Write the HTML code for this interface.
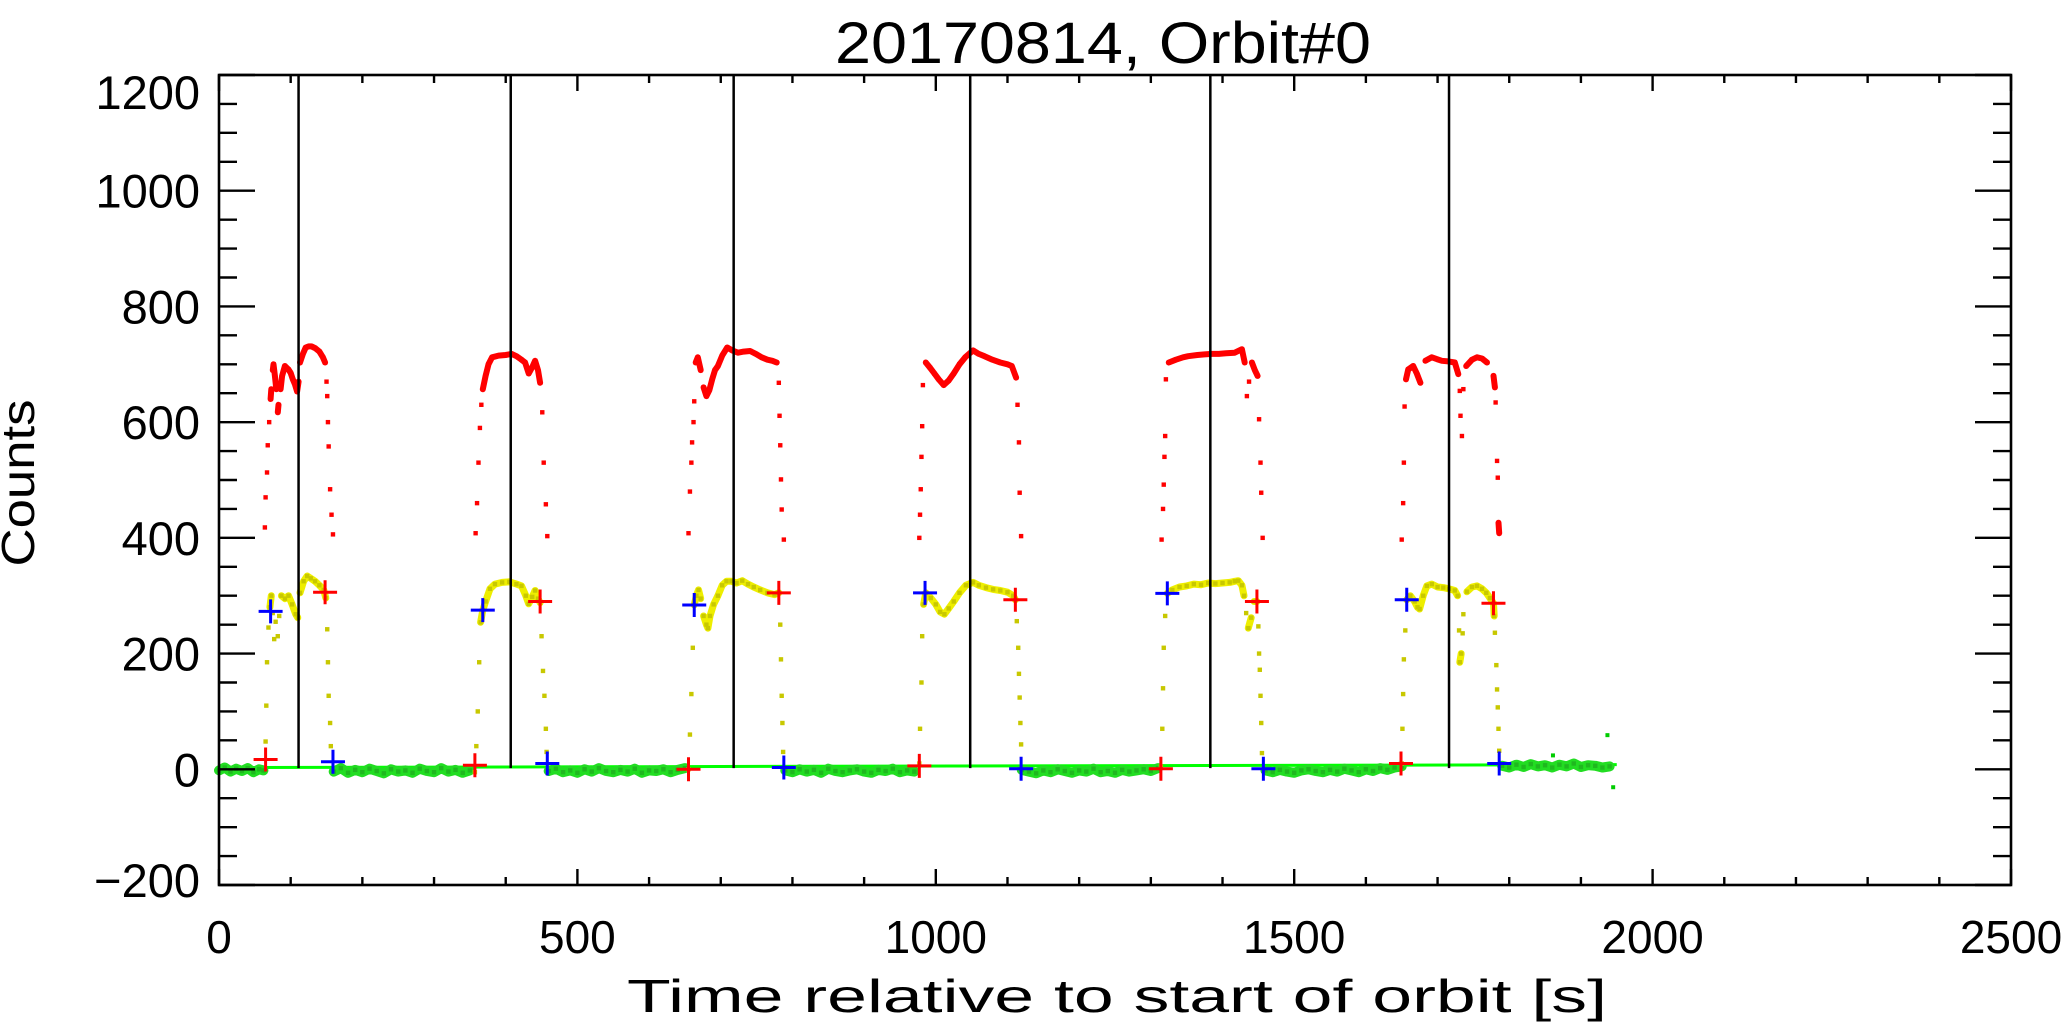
<!DOCTYPE html>
<html><head><meta charset="utf-8"><style>
html,body{margin:0;padding:0;background:#fff;}
svg{display:block;}
text{font-family:"Liberation Sans",sans-serif;fill:#000;}
</style></head><body>
<svg id="chart" width="2067" height="1030" viewBox="0 0 2067 1030" xmlns="http://www.w3.org/2000/svg">
<rect x="0" y="0" width="2067" height="1030" fill="#fff"/>
<text x="1103" y="63" font-size="58" text-anchor="middle" textLength="536" lengthAdjust="spacingAndGlyphs">20170814, Orbit#0</text>
<text x="1117" y="1012" font-size="46" text-anchor="middle" textLength="980" lengthAdjust="spacingAndGlyphs">Time relative to start of orbit [s]</text>
<text x="0" y="0" font-size="46" text-anchor="middle" textLength="167" lengthAdjust="spacingAndGlyphs" transform="translate(34,483) rotate(-90)">Counts</text>
<g id="marks"></g>
<g id="axes"></g>
</svg>
<script>
// ---- data ----
const xTicks = [0, 500, 1000, 1500, 2000, 2500];
const xTickLabels = ["0", "500", "1000", "1500", "2000", "2500"];
const yTicks = [-200, 0, 200, 400, 600, 800, 1000, 1200];
const yTickLabels = ["\u2212200", "0", "200", "400", "600", "800", "1000", "1200"];
const passLineTimes = [111, 407, 718, 1048, 1383, 1716];

const redT = [64,65,67,68,70,72,73,75,76,78,80,82,83,86,88,92,97,100,103,106,109,111,113,117,121,125,129,134,140,145,148,150,151,152,153,155,157,159,
358,360,362,364,366,368,372,376,381,390,400,408,415,422,427,432,437,441,445,448,451,453,456,458,
655,657,659,660,662,663,665,668,672,676,680,684,688,692,696,702,709,716,724,732,741,749,757,765,772,778,781,782,783,784,785,788,
977,978,979,980,981,982,986,992,998,1004,1011,1018,1025,1033,1041,1052,1060,1068,1079,1090,1100,1106,1112,1114,1116,1117,1119,
1315,1317,1318,1319,1320,1321,1325,1335,1345,1352,1365,1375,1385,1395,1405,1417,1427,1431,1434,1437,1441,1445,1449,1451,1453,1454,1456,
1650,1652,1653,1654,1656,1659,1666,1671,1676,1683,1692,1699,1706,1715,1724,1729,1731,1732,1734,1736,1740,1748,1755,1762,1769,1778,1780,1781,1783,1784,1785,1786];
const redV = [418,470,513,560,600,640,657,690,700,680,657,617,630,657,680,697,691,685,674,665,653,670,703,718,729,731,731,728,722,712,703,670,645,600,558,484,440,406,
408,460,530,590,630,657,680,700,712,715,716,718,714,708,703,684,695,706,690,668,617,530,458,403,
408,480,530,565,600,636,703,712,690,660,645,655,674,690,697,715,729,724,720,722,723,718,712,708,706,703,668,611,560,501,449,397,
400,440,484,540,593,664,703,694,684,674,664,672,684,700,712,724,718,714,708,703,700,697,677,630,565,478,403,
397,450,492,540,576,674,703,708,712,714,716,717,718,718,719,720,726,703,645,670,703,690,680,605,530,478,400,
397,460,530,627,674,691,697,684,668,706,712,709,706,705,703,683,654,611,576,657,697,708,712,710,703,680,660,634,533,504,426,408];

const yellowT = [65,66,67,69,71,73,75,77,79,82,84,87,92,97,102,107,110,113,118,123,128,134,140,146,149,151,152,153,155,156,
357,359,361,363,365,368,372,378,385,395,405,415,422,428,432,437,441,445,448,450,452,454,456,457,
655,657,659,661,663,666,669,672,676,680,682,685,690,696,702,708,715,722,730,738,746,755,765,775,781,783,784,785,786,787,
977,978,980,981,983,986,993,1000,1006,1012,1018,1025,1033,1042,1052,1060,1070,1080,1090,1100,1108,1111,1113,1115,1116,1117,1118,1119,
1314,1316,1317,1318,1320,1323,1330,1340,1350,1360,1370,1380,1390,1400,1410,1417,1422,1427,1430,1433,1436,1440,1444,1448,1450,1451,1452,1453,1454,1455,
1650,1651,1652,1653,1655,1657,1662,1668,1672,1675,1680,1685,1692,1700,1708,1716,1724,1728,1730,1731,1733,1735,1736,1741,1748,1755,1762,1768,1773,1778,1779,1780,1782,1783,1784,1785,1786];
const yellowV = [48,110,185,245,280,300,270,225,255,230,265,300,295,300,285,268,262,305,325,334,330,325,318,310,296,242,185,127,80,40,
-5,40,100,185,254,275,290,312,320,323,324,320,317,300,286,298,309,295,288,230,170,127,70,30,
0,60,130,210,284,300,310,295,265,250,244,265,285,300,318,325,325,322,326,320,315,310,305,302,305,250,190,127,80,30,
10,70,150,230,285,305,296,285,272,268,278,290,305,318,323,318,314,311,309,306,300,293,256,210,165,124,80,43,
5,70,140,210,265,304,310,315,317,320,319,322,321,322,323,325,326,318,300,270,244,262,290,290,247,200,172,127,80,28,
10,70,130,190,240,293,300,290,280,277,300,317,320,315,314,312,309,300,240,185,200,235,268,307,315,317,312,305,296,287,265,236,180,138,107,70,32];

const greenT = [0,8,16,24,32,40,48,56,62,
160,170,180,190,200,210,220,230,240,250,260,270,280,290,300,310,320,330,340,350,
460,470,480,490,500,510,520,530,540,550,560,570,580,590,600,610,620,630,640,650,
790,800,810,820,830,840,850,860,870,880,890,900,910,920,930,940,950,960,970,
1120,1130,1140,1150,1160,1170,1180,1190,1200,1210,1220,1230,1240,1250,1260,1270,1280,1290,1300,1310,
1460,1470,1480,1490,1500,1510,1520,1530,1540,1550,1560,1570,1580,1590,1600,1610,1620,1630,1640,1650,
1790,1800,1810,1820,1830,1840,1850,1860,1870,1880,1890,1900,1910,1920,1930,1940];
const greenV = [-2,3,-4,1,-3,2,-5,0,-2,
-4,2,-6,-1,-5,1,-3,-7,0,-4,-2,-6,1,-3,-5,2,-4,-1,-6,-2,
-3,1,-5,-2,-6,0,-4,2,-3,-5,-1,-4,1,-6,-2,-3,0,-5,-1,2,
-2,-5,0,-4,-1,-6,1,-3,-5,-2,0,-4,-6,-1,-3,1,-5,-2,-4,
-1,-4,-7,-2,-5,0,-3,-6,-2,-4,1,-5,-3,-6,-1,-4,-2,0,-3,2,
-2,-5,-1,-4,-6,-2,0,-3,-5,-1,-4,1,-2,-5,0,-3,2,-1,3,5,
6,3,8,4,9,5,7,3,8,5,10,4,7,6,3,5];
const greenOutT = [1861, 1937, 1945];
const greenOutV = [24, 59, -31];
const fitT = [0, 1950];
const fitV = [3, 8];

const blueCrossT = [72, 368, 663, 985, 1323, 1657, 159, 458, 788, 1119, 1457, 1786];
const blueCrossV = [273, 275, 284, 305, 304, 293, 13, 10, 3, 1, 1, 10];
const redCrossT = [148, 448, 781, 1111, 1448, 1778, 65, 357, 655, 977, 1314, 1649];
const redCrossV = [306, 290, 305, 293, 290, 287, 17, 7, 0, 6, 1, 10];

// ---- axes functions ----
const X0 = 219, X1 = 2011, Y0 = 885, Y1 = 75;
const xMin = 0, xMax = 2500, yMin = -200, yMax = 1200;
function sx(t){ return X0 + (t - xMin) / (xMax - xMin) * (X1 - X0); }
function sy(v){ return Y0 - (v - yMin) / (yMax - yMin) * (Y0 - Y1); }

const NS = "http://www.w3.org/2000/svg";
const marks = document.getElementById("marks");
const axes = document.getElementById("axes");
function mk(tag, attrs, parent){
  const e = document.createElementNS(NS, tag);
  for (const k in attrs) e.setAttribute(k, attrs[k]);
  parent.appendChild(e);
  return e;
}

function drawSeries(T, V, color, dotColor, lineW, name){
  const g = mk("g", {}, marks);
  
  
  let pts = [];
  const flush = () => {
    if (pts.length > 1) {
      const pl = mk("polyline", {points: pts.join(" "), fill: "none", stroke: color, "stroke-width": lineW, "stroke-linejoin": "round", "stroke-linecap": "round"}, g);
      
      
    }
    pts = [];
  };
  for (let i = 0; i < T.length; i++) {
    const x = sx(T[i]), y = sy(V[i]);
    if (i > 0) {
      const px = sx(T[i-1]), py = sy(V[i-1]);
      if (Math.hypot(x - px, y - py) > 14) flush();
    }
    pts.push(x.toFixed(1) + "," + y.toFixed(1));
  }
  flush();
  for (let i = 0; i < T.length; i++) {
    const d = mk("rect", {x: sx(T[i]) - 2.2, y: sy(V[i]) - 2.2, width: 4.4, height: 4.4, fill: dotColor}, g);
    
    
  }
}

// green fit line
const fit = mk("line", {x1: sx(fitT[0]), y1: sy(fitV[0]), x2: sx(fitT[1]), y2: sy(fitV[1]), stroke: "#00ff00", "stroke-width": 3}, marks);



drawSeries(greenT, greenV, "#22dd22", "#1fb81f", 10, "green-background");
for (let i = 0; i < greenOutT.length; i++) {
  const d = mk("rect", {x: sx(greenOutT[i]) - 2, y: sy(greenOutV[i]) - 2, width: 4, height: 4, fill: "#00cc00"}, marks);
  
  
}
drawSeries(redT, redV, "#ff0000", "#ff0000", 6, "red-high-counts");
drawSeries(yellowT, yellowV, "#eeee00", "#c8c800", 7, "yellow-low-counts");

// vertical pass lines
for (let i = 0; i < passLineTimes.length; i++) {
  const l = mk("line", {x1: sx(passLineTimes[i]), y1: Y1, x2: sx(passLineTimes[i]), y2: sy(2), stroke: "#000", "stroke-width": 2.5}, marks);
  
  
}

function cross(t, v, color, name){
  const x = sx(t), y = sy(v), h = 12;
  const p = mk("path", {d: `M${x-h},${y}H${x+h}M${x},${y-h}V${y+h}`, stroke: color, "stroke-width": 3, fill: "none"}, marks);
  
  
}
for (let i = 0; i < blueCrossT.length; i++) cross(blueCrossT[i], blueCrossV[i], "#0000ff", "blue-cross-marker");
for (let i = 0; i < redCrossT.length; i++) cross(redCrossT[i], redCrossV[i], "#ff0000", "red-cross-marker");

// axes box
const box = mk("rect", {x: X0, y: Y1, width: X1 - X0, height: Y0 - Y1, fill: "none", stroke: "#000", "stroke-width": 2.6}, axes);



// x ticks
for (let t = xMin; t <= xMax; t += 100) {
  const major = (t % 500 === 0);
  const L = major ? 16 : 8;
  const x = sx(t);
  const a = mk("line", {x1: x, y1: Y0, x2: x, y2: Y0 - L, stroke: "#000", "stroke-width": 2.4}, axes);
  
  
  const b = mk("line", {x1: x, y1: Y1, x2: x, y2: Y1 + L, stroke: "#000", "stroke-width": 2.4}, axes);
  
  
}
for (let i = 0; i < xTicks.length; i++) {
  const tx = mk("text", {x: sx(xTicks[i]), y: 953, "font-size": 46, "text-anchor": "middle"}, axes);
  tx.textContent = xTickLabels[i];
  
  
}
// y ticks
for (let v = yMin; v <= yMax; v += 50) {
  const major = (v % 200 === 0);
  const L = major ? 36 : 18;
  const y = sy(v);
  const a = mk("line", {x1: X0, y1: y, x2: X0 + L, y2: y, stroke: "#000", "stroke-width": 2.4}, axes);
  
  
  const b = mk("line", {x1: X1, y1: y, x2: X1 - L, y2: y, stroke: "#000", "stroke-width": 2.4}, axes);
  
  
}
for (let i = 0; i < yTicks.length; i++) {
  let yc = sy(yTicks[i]);
  if (yTicks[i] === yMax) yc = 92;
  if (yTicks[i] === yMin) yc = 880;
  const tx = mk("text", {x: 200, y: yc + 17, "font-size": 47, "text-anchor": "end"}, axes);
  tx.textContent = yTickLabels[i];
  
  
}
</script>
</body></html>
